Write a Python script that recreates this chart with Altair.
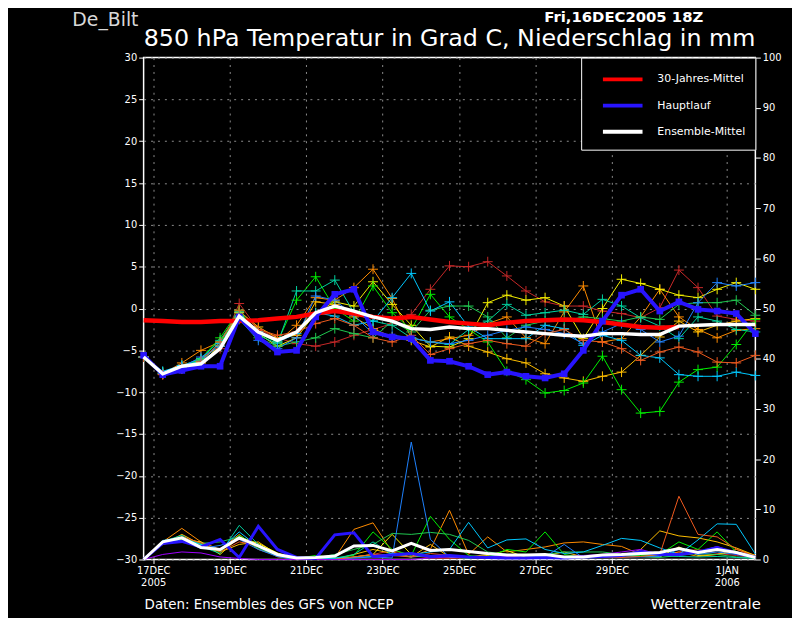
import json
import altair as alt
import pandas as pd

FONT = "DejaVu Sans"

# 12-hourly steps: step 0 = 16DEC2005 18Z ... step 32 = 01JAN2006 18Z
steps = list(range(33))
tick_values = [0.5, 4.5, 8.5, 12.5, 16.5, 20.5, 24.5, 30.5]
tick_labels = [["17DEC", "2005"], ["19DEC"], ["21DEC"], ["23DEC"], ["25DEC"],
               ["27DEC"], ["29DEC"], ["1JAN", "2006"]]
temp_ticks = list(range(-30, 31, 5))
prec_ticks = list(range(0, 101, 10))

series_names = ["30-Jahres-Mittel", "Hauptlauf", "Ensemble-Mittel"]
series_colors = ["#ff0000", "#2814ff", "#ffffff"]

member_colors = ["#c82828", "#ff8c00", "#ffbe00", "#f5f000", "#00f000",
                 "#20c850", "#00d2a0", "#00c8ff", "#1e82ff", "#f05a1e"]

temp_m01 = [-5.8, -7.9, -7.0, -6.5, -4.8, 0.6, -2.5, -3.5, -4.2, -4.5, -4.0, -3.2, -2.5, -1.8, -0.7, 2.3, 5.1, 5.0, 5.6, 3.9, 2.1, 0.8, 0.3, 0.3, -0.3, -0.6, -1.1, 0.1, 4.6, 2.5, -0.9, -1.3, -1.5]
temp_m02 = [-5.8, -7.8, -6.5, -5.0, -4.0, -0.5, -2.8, -4.0, -2.0, 1.3, 1.0, 2.5, 4.7, 1.2, -3.5, -4.0, -3.6, -3.2, -1.8, -1.0, -3.5, -4.2, -0.4, 2.7, -4.0, -3.6, -1.0, 2.3, -1.0, -2.5, -3.5, -2.6, -2.4]
temp_m03 = [-5.8, -7.6, -7.2, -6.0, -4.5, -0.3, -2.2, -3.5, -3.2, 0.8, 0.5, -1.0, -2.4, -3.4, -3.8, -4.6, -3.4, -4.5, -5.2, -6.0, -6.5, -7.8, -8.3, -8.7, -8.1, -7.6, -5.6, -3.4, -1.5, -2.8, -2.0, -1.5, -1.2]
temp_m04 = [-5.8, -7.8, -7.0, -6.5, -4.5, -0.5, -3.0, -4.5, -3.5, -0.5, 0.8, 0.3, 3.2, 0.5, -2.0, -4.5, -4.6, -3.6, 0.7, 1.6, 1.0, 1.3, 0.3, -3.6, 0.0, 3.5, 3.0, 2.3, 1.6, 1.3, 2.3, 3.1, 2.3]
temp_m05 = [-5.8, -7.6, -7.0, -6.0, -3.5, -0.2, -3.0, -4.0, 1.0, 3.8, 0.0, -1.5, 2.7, -0.5, -2.5, 1.7, -1.0, -2.5, -4.0, -7.5, -8.5, -10.1, -9.8, -8.9, -5.7, -9.7, -12.5, -12.3, -8.8, -7.3, -7.0, -4.3, -1.3]
temp_m06 = [-5.8, -7.8, -7.2, -6.2, -4.0, -0.8, -3.5, -4.5, -4.0, -3.5, -2.4, -3.0, -3.5, -1.5, -2.8, -0.2, 0.3, 0.3, -1.0, -3.5, -2.0, -1.5, -1.5, -1.0, -1.2, -1.5, -1.0, -1.3, 0.5, 0.7, 0.7, 1.0, -0.8]
temp_m07 = [-5.8, -7.7, -6.8, -6.0, -3.8, -0.4, -3.2, -4.2, 2.1, 2.1, 3.4, -0.5, -1.5, -2.0, -3.5, -4.0, -4.3, -2.5, -1.5, 0.5, -0.8, -0.5, -0.2, -0.7, 1.1, 0.3, -1.1, -2.1, -3.6, -1.0, -1.5, -2.5, -2.8]
temp_m08 = [-5.8, -7.5, -6.8, -6.3, -4.2, -1.0, -2.8, -4.0, -3.0, -0.5, -0.9, -2.0, -1.5, 1.3, 4.2, -0.3, 0.8, -2.2, -3.6, -3.6, -3.6, -2.0, -2.4, -4.4, -3.2, -3.8, -5.6, -5.9, -7.9, -8.1, -8.1, -7.6, -8.0]
temp_m09 = [-5.8, -7.8, -7.0, -5.8, -4.5, -1.3, -3.8, -4.8, -3.5, 1.5, 1.0, -0.8, -3.0, -3.2, -3.5, -4.0, -4.2, -3.8, -3.2, -2.6, -2.2, -2.5, -3.0, -4.2, -2.8, -1.8, -2.5, -4.0, -3.3, 0.7, 3.1, 2.7, 3.1]
temp_m10 = [-5.8, -7.9, -7.2, -6.3, -4.0, -0.2, -2.5, -3.2, -2.8, -1.8, -1.2, -2.0, -3.5, -4.0, -3.2, -5.5, -4.8, -4.2, -3.8, -4.2, -4.5, -3.0, -2.5, -3.8, -4.0, -4.8, -6.2, -5.2, -4.6, -5.2, -6.4, -6.5, -5.6]
member_temps = [temp_m01, temp_m02, temp_m03, temp_m04, temp_m05,
                temp_m06, temp_m07, temp_m08, temp_m09, temp_m10]

prec_m01 = [0, 3.3, 4.5, 2.8, 1.8, 4.0, 2.5, 0.5, 0.1, 0, 0.2, 0.5, 1.0, 1.8, 0.8, 0.3, 0.2, 0.4, 0.3, 0.5, 0.8, 0.3, 0.2, 0.4, 0.5, 1.0, 0.6, 0.8, 1.5, 2.0, 1.2, 0.8, 0.3]
prec_m02 = [0, 3.5, 6.2, 3.5, 2.0, 5.0, 2.0, 0.8, 0, 0, 0.3, 6.0, 7.3, 1.5, 0.5, 2.0, 9.8, 1.0, 4.5, 1.5, 2.0, 2.5, 3.3, 3.5, 3.0, 2.6, 1.0, 0.8, 1.5, 0.6, 1.0, 2.0, 0.8]
prec_m03 = [0, 3.0, 5.0, 3.0, 1.5, 3.0, 3.5, 1.0, 0, 0, 0, 1.0, 2.0, 1.2, 0.5, 3.0, 0.5, 0.5, 1.0, 0.5, 1.0, 0.8, 1.5, 0.5, 1.0, 0.5, 2.0, 5.7, 4.7, 4.3, 3.5, 2.3, 0.8]
prec_m04 = [0, 3.0, 4.0, 3.5, 1.0, 4.5, 3.2, 1.3, 0, 0, 0, 0.5, 1.0, 5.0, 1.0, 0.8, 0.5, 0.3, 0.8, 1.8, 0.4, 0.3, 0.2, 0.5, 0.4, 0.8, 0.6, 0.5, 2.5, 0.8, 1.0, 1.5, 0.7]
prec_m05 = [0, 3.4, 4.5, 3.0, 1.5, 4.8, 2.5, 1.0, 0.2, 0.8, 0.3, 0.8, 5.5, 2.0, 0.8, 8.6, 4.0, 0.8, 0.4, 2.0, 1.5, 5.5, 1.0, 0.4, 0.6, 1.0, 0.8, 1.0, 3.5, 2.0, 5.5, 1.5, 0.3]
prec_m06 = [0, 3.5, 4.0, 3.2, 3.5, 4.5, 2.2, 0.8, 0.1, 0.3, 1.0, 2.0, 3.0, 5.2, 5.0, 5.4, 5.0, 3.8, 1.5, 1.0, 0.8, 1.0, 1.5, 1.5, 1.5, 1.0, 0.6, 0.4, 0.8, 1.2, 1.0, 0.5, 0.3]
prec_m07 = [0, 3.6, 4.8, 2.6, 1.2, 6.8, 3.0, 0.6, 0, 0, 0.2, 1.0, 3.5, 1.0, 0.5, 0.8, 0.5, 0.3, 0.6, 0.8, 1.0, 0.5, 0.3, 0.3, 0.5, 0.8, 1.0, 0.8, 0.6, 0.5, 0.6, 0.4, 0.2]
prec_m08 = [0, 3.8, 4.2, 3.0, 2.0, 5.5, 2.5, 0.8, 0, 0, 0.3, 0.4, 0.6, 1.2, 1.0, 1.5, 2.0, 7.4, 2.3, 3.9, 4.1, 2.0, 1.2, 1.5, 2.8, 4.2, 3.8, 2.3, 1.0, 3.9, 7.1, 7.0, 1.1]
prec_m09 = [0, 3.6, 3.8, 2.2, 2.8, 4.0, 2.0, 0.6, 0, 0, 0, 0.3, 0.5, 0.3, 23.4, 4.0, 0.5, 0.3, 0.6, 0.8, 0.7, 0.5, 3.0, 0.3, 0.4, 0.5, 0.5, 0.6, 2.0, 1.0, 1.5, 1.0, 0.3]
prec_m10 = [0, 3.2, 4.5, 3.3, 1.5, 3.5, 2.8, 0.8, 0.1, 0, 0, 0.5, 1.0, 0.8, 0.5, 1.2, 0.8, 0.5, 0.3, 0.5, 0.3, 0.4, 0.5, 0.3, 0.5, 0.4, 0.6, 1.0, 12.6, 5.0, 4.5, 2.1, 0.5]
prec_m11 = [0, 1.0, 1.5, 1.3, 0.5, 0.2, 0, 0, 0, 0, 0, 0, 0, 0, 0, 0.3, 0.5, 0.4, 0.5, 0.6, 0.8, 1.0, 0.5, 0.8, 1.0, 1.5, 2.0, 1.0, 0.8, 1.5, 2.6, 1.2, 0.5]
member_precs = [prec_m01, prec_m02, prec_m03, prec_m04, prec_m05, prec_m06,
                prec_m07, prec_m08, prec_m09, prec_m10, prec_m11]
prec_member_colors = member_colors + ["#a000ff"]

climate_temp = [-1.4, -1.5, -1.6, -1.6, -1.5, -1.5, -1.4, -1.2, -1.0, -0.6, -0.3, -0.6, -1.0, -1.2, -1.0, -1.3, -1.6, -1.8, -2.0, -1.7, -1.5, -1.4, -1.3, -1.4, -1.6, -1.9, -2.2, -2.3, -2.2]
main_temp = [-5.6, -7.9, -7.4, -6.9, -6.9, -1.0, -3.4, -5.2, -5.0, -1.0, 1.7, 2.3, -2.8, -3.4, -3.6, -6.2, -6.3, -6.9, -7.9, -7.6, -8.1, -8.3, -7.8, -5.0, -1.5, 1.6, 2.3, -0.3, 0.8, -0.1, -0.3, -0.6, -3.0]
mean_temp = [-5.8, -7.8, -6.9, -6.6, -4.8, -0.9, -2.8, -3.8, -2.8, -0.5, 0.3, -0.3, -1.0, -1.5, -2.4, -2.5, -2.2, -2.4, -2.4, -2.6, -2.8, -3.0, -3.2, -3.3, -3.0, -3.0, -3.1, -3.1, -2.1, -2.0, -1.9, -1.9, -1.9]
main_prec = [0, 3.2, 3.6, 2.5, 4.0, 0.4, 6.6, 2.0, 0.4, 0.2, 4.9, 5.3, 0.6, 0.9, 1.2, 0.6, 0.8, 0.5, 0.4, 0.3, 0.3, 0.4, 0.3, 0.5, 0.6, 0.8, 1.6, 1.0, 1.0, 1.5, 2.4, 1.3, 0.5]
mean_prec = [0, 3.5, 4.3, 2.4, 2.0, 4.3, 2.7, 1.0, 0.3, 0.4, 0.7, 2.7, 2.8, 1.7, 3.2, 1.8, 2.0, 1.6, 1.2, 0.9, 0.9, 1.0, 0.5, 0.5, 0.9, 1.0, 1.2, 1.4, 2.2, 1.4, 2.0, 1.4, 0.4]

# ---------- tables ----------
rows = []
for k, (vals, col) in enumerate(zip(member_temps, member_colors)):
    for s, v in zip(steps, vals):
        rows.append({"step": s, "value": v, "member": f"m{k+1:02d}", "color": col})
temp_members = pd.DataFrame(rows)
rows = []
for k, (vals, col) in enumerate(zip(member_precs, prec_member_colors)):
    for s, v in zip(steps, vals):
        rows.append({"step": s, "value": v, "member": f"p{k+1:02d}", "color": col})
prec_members = pd.DataFrame(rows)

def series_df(vals, name):
    return pd.DataFrame({"step": steps[:len(vals)], "value": vals, "series": name})

clim_df = series_df(climate_temp, series_names[0])
main_t_df = series_df(main_temp, series_names[1])
mean_t_df = series_df(mean_temp, series_names[2])
main_p_df = series_df(main_prec, series_names[1])
mean_p_df = series_df(mean_prec, series_names[2])

# ---------- scales & axes ----------
expr = "''"
for v, lab in reversed(list(zip(tick_values, tick_labels))):
    lab_js = json.dumps(lab) if len(lab) > 1 else json.dumps(lab[0])
    expr = f"datum.value == {v} ? {lab_js} : {expr}"

GRID = "#8c8c8c"
x_enc = alt.X("step:Q", scale=alt.Scale(domain=[0, 32], nice=False, zero=False),
              axis=alt.Axis(values=tick_values, labelExpr=expr, grid=True, gridColor=GRID,
                            gridDash=[2, 5], gridWidth=1, tickColor="white", tickSize=4,
                            domain=False, labelColor="white", labelFont=FONT, labelFontSize=10,
                            labelLineHeight=12, labelPadding=2, labelFlush=False,
                            labelOverlap=False, labelAngle=0, title=None))
ty_scale = alt.Scale(domain=[-30, 30], nice=False, zero=False)
ty_axis = alt.Axis(values=temp_ticks, orient="left", grid=True, gridColor=GRID, gridDash=[2, 5],
                   gridWidth=1, tickColor="white", tickSize=5, domain=False, labelColor="white",
                   labelFont=FONT, labelFontSize=10, labelPadding=2, labelFlush=False, title=None)
py_scale = alt.Scale(domain=[0, 100], nice=False, zero=False)
py_axis = alt.Axis(values=prec_ticks, orient="right", grid=False, tickColor="white", tickSize=5,
                   domain=False, labelColor="white", labelFont=FONT, labelFontSize=10,
                   labelPadding=2, labelFlush=False, title=None)

color_scale = alt.Scale(domain=series_names, range=series_colors)
legend = alt.Legend(title=None, orient="top-right", offset=0, fillColor="black",
                    strokeColor="white", padding=10, labelColor="white", labelFont=FONT,
                    labelFontSize=11, symbolType="M0,0L4,0", symbolSize=400,
                    symbolStrokeWidth=4, rowPadding=6.5, labelOffset=43)
ser_color = alt.Color("series:N", scale=color_scale, legend=legend)

ty = alt.Y("value:Q", scale=ty_scale, axis=ty_axis)
py = alt.Y("value:Q", scale=py_scale, axis=py_axis)

# ---------- temperature layers ----------
t_member_lines = alt.Chart(temp_members).mark_line(strokeWidth=1).encode(
    x=x_enc, y=ty, detail="member:N", color=alt.Color("color:N", scale=None))
t_member_pts = alt.Chart(temp_members).mark_point(
    shape="M-1,0L1,0M0,-1L0,1", filled=False, strokeWidth=1, size=100, opacity=1).encode(
    x=x_enc, y=ty, color=alt.Color("color:N", scale=None))
clim_line = alt.Chart(clim_df).mark_line(strokeWidth=4.5).encode(x=x_enc, y=ty, color=ser_color)
main_line = alt.Chart(main_t_df).mark_line(strokeWidth=4).encode(x=x_enc, y=ty, color=ser_color)
main_pts = alt.Chart(main_t_df).mark_square(size=45, opacity=1).encode(
    x=x_enc, y=ty, color=alt.Color("series:N", scale=color_scale, legend=None))
mean_line = alt.Chart(mean_t_df).mark_line(strokeWidth=3.5).encode(x=x_enc, y=ty, color=ser_color)

temp_layer = alt.layer(t_member_lines, t_member_pts, clim_line, main_line, main_pts, mean_line)

# ---------- precipitation layers ----------
p_member_lines = alt.Chart(prec_members).mark_line(strokeWidth=1).encode(
    x=x_enc, y=py, detail="member:N", color=alt.Color("color:N", scale=None))
main_p_line = alt.Chart(main_p_df).mark_line(strokeWidth=3).encode(x=x_enc, y=py, color=ser_color)
mean_p_line = alt.Chart(mean_p_df).mark_line(strokeWidth=3).encode(x=x_enc, y=py, color=ser_color)
prec_layer = alt.layer(p_member_lines, main_p_line, mean_p_line)

# ---------- text ----------
def txt(s, x, y, size, align="left", weight="normal", color="white"):
    return alt.Chart(pd.DataFrame({"t": [s]})).mark_text(
        font=FONT, fontSize=size, align=align, baseline="alphabetic",
        fontWeight=weight, color=color).encode(text="t:N", x=alt.value(x), y=alt.value(y))

texts = alt.layer(
    txt("De_Bilt", -72, -32, 19, color="#d8d8d8"),
    txt("Fri,16DEC2005 18Z", 485, -36, 15, align="center", weight="bold"),
    txt("850 hPa Temperatur in Grad C, Niederschlag in mm", 309, -12, 24, align="center"),
    txt("Daten: Ensembles des GFS von NCEP", 1, 557, 13.5),
    txt("Wetterzentrale", 512, 557, 15),
)

chart = alt.layer(prec_layer, temp_layer, texts).resolve_scale(y="independent").properties(
    width=618, height=507,
    autosize=alt.AutoSizeParams(type="none"),
    padding={"left": 137, "top": 47, "right": 37, "bottom": 56},
    background="black",
).configure_view(stroke="white", strokeWidth=1.5)

chart.save("out.html", embed_options={"renderer": "svg", "actions": False})
